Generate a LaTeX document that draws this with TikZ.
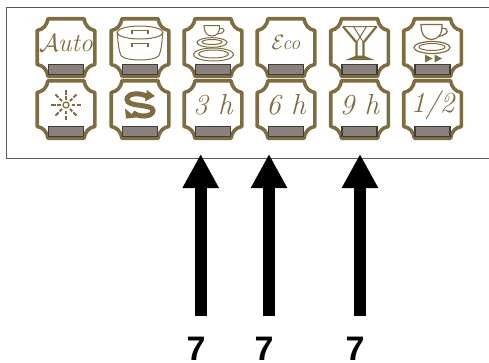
\documentclass[tikz,border=0pt]{standalone}
\usepackage{fontspec}
\newfontfamily\numfont{Liberation Sans}[Scale=1]
\usetikzlibrary{arrows.meta}
\definecolor{gold}{HTML}{7F6D42}
\definecolor{slot}{HTML}{8A817D}
\definecolor{slotline}{HTML}{3F3D3A}
\definecolor{framec}{HTML}{5A5A5A}
\tikzset{
  x=1pt,y=-1pt,
  btn/.pic={
    \draw[gold,line width=3.6pt,fill=white,line join=round]
      (-18,-28.8) -- (18,-28.8) .. controls (19,-22) and (23,-18) .. (28.8,-17)
      -- (28.8,17) .. controls (23,18) and (19,22) .. (18,28.8)
      -- (-18,28.8) .. controls (-19,22) and (-23,18) .. (-28.8,17)
      -- (-28.8,-17) .. controls (-23,-18) and (-19,-22) .. (-18,-28.8) -- cycle;
    \draw[slotline,fill=slot,line width=1.3pt] (-17.5,16.8) rectangle (17.5,27);
  },
  icon/.style={gold,line width=1pt},
  iconthick/.style={gold,line width=2.2pt},
  script/.style={text=gold,inner sep=0pt,font=\fontsize{29}{29}\selectfont\itshape},
  scriptauto/.style={text=gold,inner sep=0pt,font=\fontsize{26}{26}\selectfont\itshape},
  scripteco/.style={text=gold,inner sep=0pt,font=\fontsize{20}{20}\selectfont\itshape},
  bigarrow/.style={line width=12pt,-{Triangle[length=34pt,width=34pt]},black},
  callout/.style={inner sep=0pt,font=\fontsize{34}{34}\numfont\bfseries,text=black}
}
\begin{document}
\begin{tikzpicture}
\useasboundingbox (0,0) rectangle (489,362);
\draw[framec,line width=1pt] (6,7) -- (495,7) (6,7) -- (6,158) -- (495,158);
\foreach \cx in {66,140,213,286,359.5,432.5} {
  \pic at (\cx,109.5) {btn};
  \pic at (\cx,47.5) {btn};
}
% Auto
\node[scriptauto] (auto) at (66,43) {$\mathcal{A}$\kern-1pt uto};
% pot
\begin{scope}[shift={(140,47.5)}]
  \draw[icon,fill=white] (-22.5,-14) .. controls (-22,-3) and (-21,3) .. (-19,8)
    .. controls (-15,14) and (15,14) .. (19,8) .. controls (21,3) and (22,-3) .. (22.5,-14);
  \draw[icon] (0,-15) ellipse [x radius=23, y radius=6.5];
  \draw[iconthick,line width=1.6pt] (-8,-13.5) -- (-8,-17) -- (8,-17) -- (8,-13.5);
  \draw[iconthick,line width=1.6pt] (-8,-1) -- (-8,-4) -- (8,-4) -- (8,-1);
\end{scope}
% plates
\begin{scope}[shift={(213,47.5)}]
  \draw[icon] (-9,-22) -- (6.5,-22) .. controls (7,-15) and (4,-11.5) .. (-1,-11.5)
     .. controls (-6,-11.5) and (-9,-15) .. (-9,-22) -- cycle;
  \draw[icon] (6.5,-19) .. controls (13,-20) and (13,-14) .. (4,-13.5);
  \draw[icon] (-1,-5) ellipse [x radius=15, y radius=4.8];
  \draw[icon] (-1,-5.5) ellipse [x radius=10, y radius=2.5];
  \draw[icon] (0.5,7) ellipse [x radius=20, y radius=6.5];
  \draw[icon] (0.5,6.5) ellipse [x radius=15, y radius=4];
\end{scope}
% Eco
\node[scripteco] (eco) at (286,43) {$\mathcal{E}$\kern-2pt co};
% glasses
\begin{scope}[shift={(359.5,47.5)}]
  \draw[iconthick] (-16.5,-21) -- (-3,-5) -- (-3,11);
  \draw[iconthick] (17,-21) -- (4,-5) -- (4,11);
  \draw[icon] (-16.5,-21) -- (7,-21) -- (-3,-5);
  \draw[icon] (-6,-21) -- (4,-5);
  \draw[icon] (-6,-21) -- (17,-21);
  \fill[gold] (-3,8) -- (-14,12.5) -- (15,12.5) -- (4,8) -- cycle;
\end{scope}
% coffee
\begin{scope}[shift={(432.5,47.5)}]
  \draw[icon,line width=1.2pt] (-11.5,-23) -- (9.5,-23) .. controls (10,-14) and (6,-8) .. (-1,-8)
     .. controls (-8,-8) and (-11.5,-14) .. (-11.5,-23) -- cycle;
  \draw[icon,line width=1.2pt] (9.5,-19) .. controls (17,-20) and (17,-13) .. (6,-11);
  \draw[icon,line width=1.2pt] (-0.5,0) ellipse [x radius=18, y radius=6];
  \draw[icon] (-0.5,-0.5) ellipse [x radius=13, y radius=3.5];
  \fill[gold] (-7.5,7) -- (0,11) -- (-7.5,15) -- cycle;
  \fill[gold] (2,7) -- (9.5,11) -- (2,15) -- cycle;
\end{scope}
% sun
\begin{scope}[shift={(66,109.5)}]
  \draw[icon,line width=1.2pt] (0,-4.5) circle (3);
  \foreach \a in {0,45,...,315} {
    \draw[iconthick,line width=1.8pt,shift={(0,-4.5)}] (\a:5.5) -- (\a:9) (\a:10.5) -- (\a:15);
  }
\end{scope}
% S arrows
\begin{scope}[shift={(140,109.5)}]
  \draw[gold,line width=5pt] (7,-13) .. controls (1,-17) and (-13,-17) .. (-13,-10)
     .. controls (-13,-2) and (13,-6) .. (13,1) .. controls (13,8) and (-2,8) .. (-7,3);
  \fill[gold] (7,-19.5) -- (15,-13.5) -- (5,-8) -- cycle;
  \fill[gold] (-15,-1) -- (-14,9) -- (-4,8) -- cycle;
\end{scope}
% times
\node[script] (t3) at (213,105) {3 h};
\node[script] (t6) at (286,105) {6 h};
\node[script] (t9) at (359.5,105) {9 h};
\node[script] (half) at (432.5,105) {1/2};
% arrows and labels
\node[callout] (n1) at (196,349) {7};
\node[callout] (n2) at (264,349) {7};
\node[callout] (n3) at (355,349) {7};
\coordinate (a1s) at (200.7,316); \coordinate (a1e) at (200.7,154);
\coordinate (a2s) at (269,316);   \coordinate (a2e) at (269,154);
\coordinate (a3s) at (360,316);   \coordinate (a3e) at (360,154);
\draw[bigarrow] (a1s) -- (a1e);
\draw[bigarrow] (a2s) -- (a2e);
\draw[bigarrow] (a3s) -- (a3e);
\end{tikzpicture}
\end{document}
